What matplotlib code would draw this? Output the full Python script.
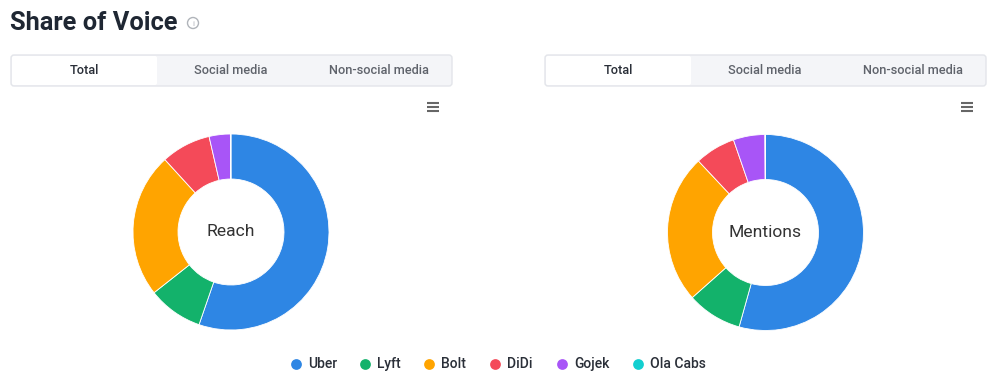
import matplotlib
matplotlib.use("Agg")
import matplotlib.pyplot as plt
from matplotlib.patches import FancyBboxPatch, Rectangle, Circle

plt.rcParams['font.family'] = ['Roboto', 'DejaVu Sans']

brands = ["Uber", "Lyft", "Bolt", "DiDi", "Gojek", "Ola Cabs"]
colors = ["#2e86e4", "#13b26b", "#ffa400", "#f44a59", "#a855f7", "#12cfd0"]
reach = [55.4, 9.1, 23.9, 8.2, 3.5, 0.1]
mentions = [54.4, 9.1, 24.6, 6.7, 5.2, 0.1]
center_labels = ["Reach", "Mentions"]
tab_labels = ["Total", "Social media", "Non-social media"]
title = "Share of Voice"

W, H = 1000, 391
fig = plt.figure(figsize=(W / 100, H / 100), dpi=100)
bg = fig.add_axes([0, 0, 1, 1])
bg.set_xlim(0, W)
bg.set_ylim(H, 0)
bg.axis("off")

# Title
bg.text(10, 23, title, fontsize=18.3, fontweight="bold", color="#1f2733",
        va="center", ha="left")
bg.add_patch(Circle((193, 23), 5.5, fill=False, ec="#b0b4ba", lw=1.0))
bg.text(193, 23.5, "i", fontsize=6, color="#b0b4ba", ha="center", va="center")

def tabs(x0):
    w = 441
    bg.add_patch(FancyBboxPatch((x0, 55), w, 31, boxstyle="round,pad=0,rounding_size=3",
                                fc="#f4f5f8", ec="#e3e5ea", lw=1))
    bg.add_patch(FancyBboxPatch((x0 + 1, 56), 145, 29, boxstyle="round,pad=0,rounding_size=2",
                                fc="white", ec="none"))
    centers = [x0 + 73, x0 + 220, x0 + 368]
    for i, (c, t) in enumerate(zip(centers, tab_labels)):
        bg.text(c, 71, t, fontsize=9.2, ha="center", va="center",
                color="#2a2f38" if i == 0 else "#5f636b", fontweight=500)

def hamburger(x, y):
    for dy in (-4, 0, 4):
        bg.plot([x - 6, x + 6], [y + dy, y + dy], color="#666666", lw=1.5,
                solid_capstyle="butt")

tabs(11)
tabs(545)
hamburger(433, 107)
hamburger(967, 107)

def donut(cx, cy, values, label):
    size = 200
    ax = fig.add_axes([(cx - size / 2) / W, (H - cy - size / 2) / H, size / W, size / H])
    ax.pie(values, colors=colors, startangle=90, counterclock=False, radius=0.98,
           wedgeprops=dict(width=0.45, edgecolor="white", linewidth=0.6))
    ax.set_xlim(-1, 1)
    ax.set_ylim(-1, 1)
    ax.set_aspect("equal")
    ax.text(0, 0, label, fontsize=12.6, ha="center", va="center", color="#333333")

donut(231, 232, reach, center_labels[0])
donut(765.5, 232.5, mentions, center_labels[1])

# Legend
dots = [296, 365, 429, 495, 562, 638]
for x, c, name in zip(dots, colors, brands):
    bg.scatter([x], [364], s=60, color=c, marker="o", linewidths=0)
    bg.text(x + 12, 364, name, fontsize=10, fontweight=500, color="#2a2f38",
            ha="left", va="center")

fig.savefig("out.png", dpi=100, facecolor="white")
